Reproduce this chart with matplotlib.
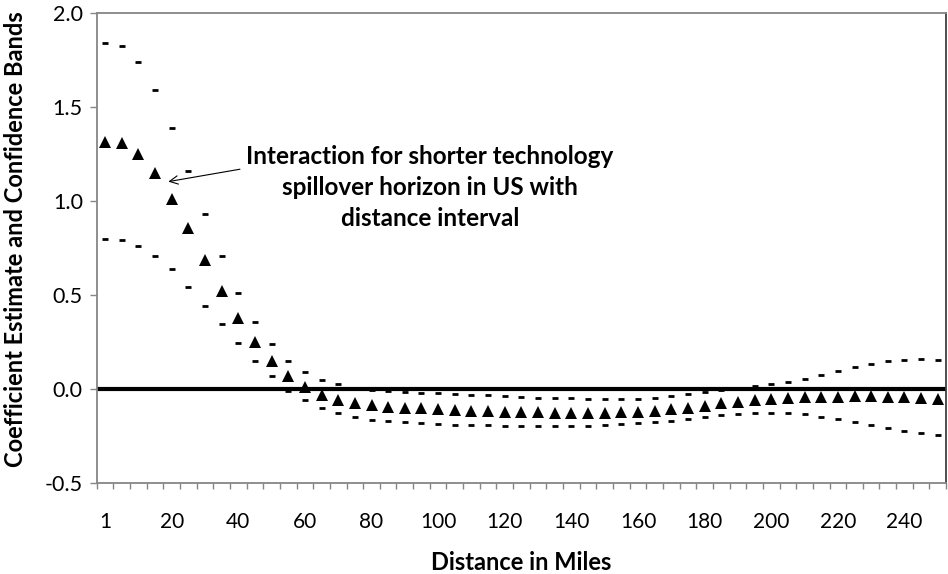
import matplotlib
matplotlib.use("Agg")
import matplotlib.pyplot as plt
import numpy as np

plt.rcParams['font.family'] = ['Lato', 'DejaVu Sans']
plt.rcParams['axes.unicode_minus'] = False

# distance categories (miles)
distance = [1] + list(range(5, 255, 5))

# point estimates (triangles)
coef = [1.315, 1.31, 1.25, 1.15, 1.01, 0.855, 0.686, 0.52, 0.376, 0.252,
        0.149, 0.07, 0.012, -0.034, -0.059, -0.076, -0.085, -0.094, -0.099, -0.103,
        -0.108, -0.112, -0.115, -0.117, -0.12, -0.123, -0.124, -0.126, -0.126, -0.126,
        -0.126, -0.124, -0.12, -0.115, -0.108, -0.099, -0.089, -0.076, -0.067, -0.059,
        -0.053, -0.046, -0.044, -0.043, -0.041, -0.037, -0.037, -0.041, -0.044, -0.05,
        -0.055]

# upper confidence band
upper = [1.842, 1.826, 1.739, 1.59, 1.39, 1.16, 0.929, 0.709, 0.512, 0.355,
         0.238, 0.149, 0.092, 0.048, 0.025, 0.007, -0.005, -0.011, -0.014, -0.02,
         -0.023, -0.027, -0.03, -0.034, -0.039, -0.045, -0.046, -0.046, -0.047, -0.052,
         -0.053, -0.053, -0.051, -0.046, -0.039, -0.028, -0.018, -0.007, 0.007, 0.018,
         0.028, 0.039, 0.055, 0.076, 0.096, 0.115, 0.131, 0.147, 0.154, 0.16,
         0.154]

# lower confidence band
lower = [0.798, 0.793, 0.762, 0.709, 0.637, 0.544, 0.443, 0.347, 0.246, 0.151,
         0.067, -0.008, -0.056, -0.099, -0.126, -0.147, -0.165, -0.17, -0.176, -0.179,
         -0.185, -0.19, -0.191, -0.193, -0.196, -0.197, -0.197, -0.197, -0.197, -0.195,
         -0.191, -0.188, -0.183, -0.177, -0.17, -0.161, -0.151, -0.139, -0.135, -0.126,
         -0.126, -0.128, -0.135, -0.147, -0.16, -0.174, -0.191, -0.209, -0.222, -0.232,
         -0.245]

label_every = 4
yticks = [-0.5, 0.0, 0.5, 1.0, 1.5, 2.0]

fig = plt.figure(figsize=(9.48, 5.74), dpi=100)
ax = fig.add_axes([0.102, 0.1585, 0.896, 0.8189])

pos = np.arange(len(distance))

ax.axhline(0, color='black', lw=3, zorder=2)
ax.plot(pos, upper, ls='none', marker='_', ms=5, mew=2, color='black', zorder=3)
ax.plot(pos, lower, ls='none', marker='_', ms=5, mew=2, color='black', zorder=3)
ax.plot(pos, coef, ls='none', marker='^', ms=8.7, mew=0, color='black', zorder=4)

ax.set_xlim(-0.5, len(distance) - 0.5)
ax.set_ylim(-0.5, 2.0)

# category axis: ticks between categories, labels on every 4th category
ax.set_xticks(pos[::label_every])
ax.set_xticklabels([str(d) for d in distance[::label_every]])
ax.set_xticks(np.arange(-0.5, len(distance), 1), minor=True)
ax.tick_params(axis='x', which='major', length=0, pad=21, labelsize=15)
ax.tick_params(axis='x', which='minor', length=4.5, color='#868686', width=1)

ax.set_yticks(yticks)
ax.set_yticklabels(['%.1f' % v for v in yticks])
ax.tick_params(axis='y', length=5, color='#868686', width=1, pad=5, labelsize=15.5)

for side in ['left', 'bottom', 'top']:
    ax.spines[side].set_color('#868686')
    ax.spines[side].set_linewidth(1.3)
ax.spines['right'].set_color('#404040')
ax.spines['right'].set_linewidth(1.3)

ax.set_xlabel('Distance in Miles', fontsize=17, fontweight='bold')
ax.xaxis.set_label_coords(0.5, -0.145)
ax.set_ylabel('Coefficient Estimate and Confidence Bands', fontsize=17, fontweight='bold')
ax.yaxis.set_label_coords(-0.082, 0.519)

ax.annotate('', xy=(3.8, 1.103), xytext=(8.1, 1.169),
            arrowprops=dict(arrowstyle='->', color='black', lw=0.8,
                            shrinkA=0, shrinkB=0, mutation_scale=15))
ax.text(19.5, 1.074, 'Interaction for shorter technology\nspillover horizon in US with\ndistance interval',
        ha='center', va='center', multialignment='center',
        fontsize=17.5, fontweight='bold', linespacing=1.42)

fig.savefig('out.png', dpi=100)
